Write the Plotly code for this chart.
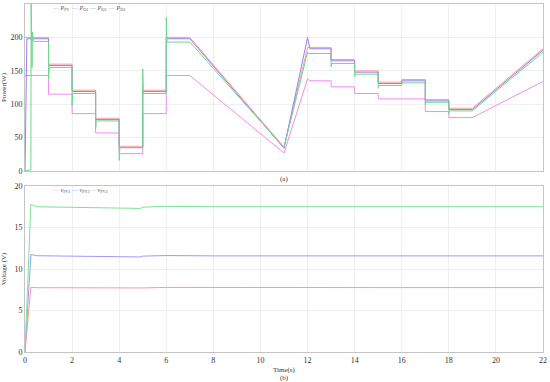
import plotly.graph_objects as go
from plotly.subplots import make_subplots

# ---- power (top panel) ----
t_ppv = [0, 1, 1, 2, 2, 3, 3, 4, 4, 5, 5, 6, 6, 7, 11, 12, 13, 13, 14, 14, 15, 15, 16, 16, 17, 17, 18, 18, 19, 22]
p_ppv = [200, 200, 160, 160, 121, 121, 79, 79, 37, 37, 121, 121, 200, 200, 36, 185, 185, 167, 167, 150, 150, 133, 133, 137, 137, 107, 107, 94, 94, 183]

t_po1 = [0, 1, 1, 2, 2, 3, 3, 4, 4, 5, 5, 6, 6, 7, 11, 12, 12.1, 13, 13, 14, 14, 15, 15, 17, 17, 18, 18, 19, 22]
p_po1 = [143, 143, 115, 115, 86, 86, 57, 57, 26, 26, 86, 86, 143, 143, 27, 138, 135, 135, 126, 126, 116, 116, 108, 108, 89, 89, 80, 80, 134]

t_po2 = [0, 0.08, 1, 1, 2, 2, 3, 3, 4, 4, 5, 5, 6, 6, 7, 11, 12, 12.1, 13, 13, 14, 14, 15, 15, 16, 16, 17, 17, 18, 18, 19, 22]
p_po2 = [0, 198, 198, 158, 158, 119, 119, 77, 77, 35, 35, 119, 119, 198, 198, 34, 200, 183, 183, 165, 165, 148, 148, 131, 131, 135, 135, 105, 105, 92, 92, 181]

t_po3 = [0, 0.25, 0.26, 0.3, 0.31, 0.36, 1, 1.0, 1.03, 2, 2.0, 2.03, 3, 3.0, 3.03,
         4, 4.0, 4.03, 5, 5.0, 5.03, 6, 6.0, 6.03, 7, 11, 12, 12.03, 13, 13.0, 13.03,
         14, 14.0, 14.03, 15, 15.0, 15.03, 16, 16.03, 17, 17.0, 17.03, 18, 18.0, 18.03, 19, 22]
p_po3 = [0, 2, 260, 155, 208, 194, 194, 138, 155, 155, 98, 116, 116, 64, 75, 75, 16, 35,
         35, 153, 116, 116, 230, 193, 193, 35, 178, 176, 176, 156, 161, 161, 141, 145, 145, 124, 128,
         128, 132, 132, 99, 103, 103, 86, 90, 90, 178]

# ---- voltage (bottom panel) ----
t_v = [0, 0.25, 0.5, 2, 4, 4.9, 5, 6, 8, 12, 16, 22]
v_pv1 = [0, 7.8, 7.75, 7.72, 7.68, 7.68, 7.72, 7.78, 7.76, 7.78, 7.76, 7.76]
v_pv2 = [0, 11.75, 11.6, 11.55, 11.45, 11.45, 11.55, 11.62, 11.58, 11.6, 11.58, 11.58]
v_pv3 = [0, 17.8, 17.5, 17.45, 17.35, 17.3, 17.45, 17.55, 17.5, 17.52, 17.5, 17.5]

x_ticks = list(range(0, 23, 2))

FONT = "Liberation Serif"
AXC = "#c4c4c4"
GRID = "#efefef"

fig = make_subplots(rows=2, cols=1)

power = [
    ("<i>P</i><sub>PV</sub>", t_ppv, p_ppv, "#ff9c9c"),
    ("<i>P</i><sub>O1</sub>", t_po1, p_po1, "#f28af2"),
    ("<i>P</i><sub>O2</sub>", t_po2, p_po2, "#9b7cf0"),
    ("<i>P</i><sub>O3</sub>", t_po3, p_po3, "#6cd98c"),
]
volt = [
    ("<i>v</i><sub>PV1</sub>", t_v, v_pv1, "#ff9a9a"),
    ("<i>v</i><sub>PV2</sub>", t_v, v_pv2, "#9a9aff"),
    ("<i>v</i><sub>PV3</sub>", t_v, v_pv3, "#7ce29a"),
]

anns = []
for row, series, ly in [(1, power, 0.987), (2, volt, 0.463)]:
    lx = 0.048
    for name, tt, yy, c in series:
        fig.add_trace(go.Scatter(x=tt, y=yy, name=name, mode="lines", showlegend=False,
                                 line=dict(color=c, width=1)), row=row, col=1)
        # compact legend entry: coloured dash + label
        anns.append(dict(text="<span style='color:%s'>—</span> %s" % (c, name),
                         x=lx, y=ly, xref="paper", yref="paper", showarrow=False,
                         xanchor="left", yanchor="middle", font=dict(size=6, color="#555")))
        lx += 0.036

ax_common = dict(showline=True, linecolor=AXC, linewidth=1, mirror=True, automargin=False,
                 showgrid=True, gridcolor=GRID, gridwidth=1, zeroline=False,
                 ticks="", tickfont=dict(size=8, color="#333"))

fig.update_xaxes(range=[0, 22], tickvals=x_ticks, **ax_common)
fig.update_xaxes(showticklabels=False, row=1, col=1)
fig.update_yaxes(**ax_common)
fig.update_yaxes(range=[0, 250], tickvals=[0, 50, 100, 150, 200, 250], domain=[0.52, 1],
                 title=dict(text="Power(W)", font=dict(size=7, color="#333"), standoff=4), row=1, col=1)
fig.update_yaxes(range=[0, 20], tickvals=[0, 5, 10, 15, 20], domain=[0, 0.477],
                 title=dict(text="Voltage (V)", font=dict(size=7, color="#333"), standoff=6), row=2, col=1)

anns += [
    dict(text="(a)", x=0.5, y=0.498, xref="paper", yref="paper", showarrow=False,
         font=dict(size=7, color="#333"), yanchor="middle"),
    dict(text="Time(s)", x=0.5, y=-0.052, xref="paper", yref="paper", showarrow=False,
         font=dict(size=7, color="#333"), yanchor="middle"),
    dict(text="(b)", x=0.5, y=-0.074, xref="paper", yref="paper", showarrow=False,
         font=dict(size=7, color="#333"), yanchor="middle"),
]

fig.update_layout(
    width=550, height=382,
    margin=dict(l=25, r=7, t=4, b=30),
    paper_bgcolor="white", plot_bgcolor="white",
    font=dict(family=FONT, color="#333"),
    annotations=anns,
)

# drop the browser's default 8 px body margin so the figure sits at the page corner
fig.write_html("out.html", config={"displayModeBar": False},
               post_script="document.body.style.margin='0';")
